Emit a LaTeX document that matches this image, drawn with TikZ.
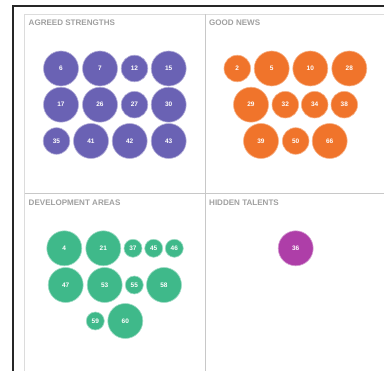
\documentclass[tikz,border=0pt]{standalone}
\usepackage{fontspec}
\setmainfont{Liberation Sans}
\definecolor{cpurple}{HTML}{6A62B4}
\definecolor{corange}{HTML}{F0742B}
\definecolor{cgreen}{HTML}{3FB98A}
\definecolor{cmagenta}{HTML}{AE3EA8}
\definecolor{ctitle}{HTML}{A0A0A0}
\definecolor{cgrid}{HTML}{C8C8C8}
\definecolor{cgridlight}{HTML}{DCDCDC}
\tikzset{
  bub/.style={circle,inner sep=0pt,minimum size=#1*2pt,text=white,font=\fontsize{6.5}{7}\selectfont\bfseries},
  big/.style={bub=17.5},
  small/.style={bub=13.3},
  tiny/.style={bub=9},
  purp/.style={fill=cpurple,draw=cpurple!50,line width=.6pt},
  oran/.style={fill=corange,draw=corange!55,line width=.6pt},
  gree/.style={fill=cgreen,draw=cgreen!50,line width=.6pt},
  mage/.style={fill=cmagenta,draw=cmagenta!50,line width=.6pt},
  paneltitle/.style={anchor=west,inner sep=0pt,text=ctitle,font=\fontsize{8.05}{9}\selectfont\bfseries},
  grid/.style={draw=cgrid,line width=.8pt},
  gridlight/.style={draw=cgridlight,line width=.8pt},
  frame/.style={draw=black!85,line width=1.8pt}
}
\begin{document}
\begin{tikzpicture}[x=1pt,y=-1pt]
\useasboundingbox (0,0) rectangle (384,371);
\fill[white] (0,0) rectangle (384,371);
\coordinate (fb) at (13,371); \coordinate (ft) at (13,6); \coordinate (fr) at (384,6);
\draw[frame] (fb) -- (ft) -- (fr);
\coordinate (gb) at (24.5,371); \coordinate (gt) at (24.5,14.5); \coordinate (gr) at (384,14.5);
\draw[gridlight] (gb) -- (gt) -- (gr);
\coordinate (vt) at (205.3,14.5); \coordinate (vb) at (205.3,371);
\draw[grid] (vt) -- (vb);
\coordinate (hl) at (24.5,193.3); \coordinate (hr) at (384,193.3);
\draw[grid] (hl) -- (hr);
\node[paneltitle] (t1) at (28.5,22.7) {AGREED STRENGTHS};
\node[paneltitle] (t2) at (209,22.7) {GOOD NEWS};
\node[paneltitle] (t3) at (28.5,203) {DEVELOPMENT AREAS};
\node[paneltitle] (t4) at (209,203) {HIDDEN TALENTS};
% purple
\node[big,purp] (p6) at (61,68.5) {6};
\node[big,purp] (p7) at (100,68.5) {7};
\node[small,purp] (p12) at (134.5,68.5) {12};
\node[big,purp] (p15) at (168.7,68.5) {15};
\node[big,purp] (p17) at (61,104.7) {17};
\node[big,purp] (p26) at (100,104.7) {26};
\node[small,purp] (p27) at (134.5,104.7) {27};
\node[big,purp] (p30) at (168.7,104.7) {30};
\node[small,purp] (p35) at (56.5,141) {35};
\node[big,purp] (p41) at (91,141) {41};
\node[big,purp] (p42) at (129.7,141) {42};
\node[big,purp] (p43) at (168.7,141) {43};
% orange
\node[small,oran] (o2) at (237.3,68.5) {2};
\node[big,oran] (o5) at (271.7,68.5) {5};
\node[big,oran] (o10) at (310.3,68.5) {10};
\node[big,oran] (o28) at (349.3,68.5) {28};
\node[big,oran] (o29) at (251,104.7) {29};
\node[small,oran] (o32) at (285.3,104.7) {32};
\node[small,oran] (o34) at (314.7,104.7) {34};
\node[small,oran] (o38) at (344.3,104.7) {38};
\node[big,oran] (o39) at (261,141) {39};
\node[small,oran] (o50) at (295.7,141) {50};
\node[big,oran] (o66) at (329.7,141) {66};
% green
\node[big,gree] (g4) at (64.3,248.3) {4};
\node[big,gree] (g21) at (103.3,248.3) {21};
\node[tiny,gree] (g37) at (133,248.3) {37};
\node[tiny,gree] (g45) at (153.7,248.3) {45};
\node[tiny,gree] (g46) at (174.3,248.3) {46};
\node[big,gree] (g47) at (65.7,285) {47};
\node[big,gree] (g53) at (104.7,285) {53};
\node[tiny,gree] (g55) at (134.3,285) {55};
\node[big,gree] (g58) at (164,285) {58};
\node[tiny,gree] (g59) at (95.3,321) {59};
\node[big,gree] (g60) at (125.3,321) {60};
% magenta
\node[big,mage] (m36) at (295.7,248.3) {36};
\end{tikzpicture}
\end{document}
